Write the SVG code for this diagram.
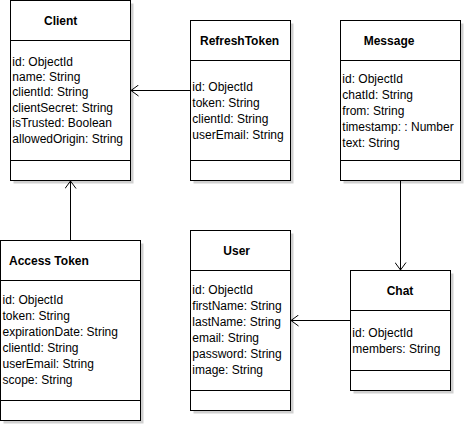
<svg xmlns="http://www.w3.org/2000/svg" width="465" height="425" viewBox="0 0 465 425">
<style>
.box{fill:#fff;stroke:#000;stroke-width:1}
.sh{fill:#d0d0d0}
.ln{stroke:#000;stroke-width:1;fill:none}
.t{font-family:"Liberation Sans",Arial,sans-serif;font-size:12px;font-weight:bold;fill:#000}
.a{font-family:"Liberation Sans",Arial,sans-serif;font-size:12px;fill:#000}
</style>
<defs>
<marker id="open" viewBox="0 0 10 12" refX="8" refY="6" markerWidth="10" markerHeight="12" markerUnits="userSpaceOnUse" orient="auto">
<path d="M0.5,0.5 L8,6 L0.5,11.5" fill="none" stroke="#000" stroke-width="1"/>
</marker>
</defs>
<rect width="465" height="425" fill="#fff"/>
<g id="client">
<rect class="sh" x="13.5" y="3.5" width="120" height="180"/>
<rect class="box" x="10.5" y="0.5" width="120" height="180"/>
<line class="ln" x1="10.5" y1="40.5" x2="130.5" y2="40.5"/>
<line class="ln" x1="10.5" y1="160.5" x2="130.5" y2="160.5"/>
<text class="t" x="44" y="25.3">Client</text>
<text class="a"><tspan x="12.3" y="65.5">id: ObjectId</tspan><tspan x="12.3" y="80.9">name: String</tspan><tspan x="12.3" y="96.3">clientId: String</tspan><tspan x="12.3" y="111.7">clientSecret: String</tspan><tspan x="12.3" y="127.1">isTrusted: Boolean</tspan><tspan x="12.3" y="142.5">allowedOrigin: String</tspan></text>
</g>
<g id="refreshtoken">
<rect class="sh" x="193.5" y="23.5" width="100" height="160"/>
<rect class="box" x="190.5" y="20.5" width="100" height="160"/>
<line class="ln" x1="190.5" y1="60.5" x2="290.5" y2="60.5"/>
<line class="ln" x1="190.5" y1="160.5" x2="290.5" y2="160.5"/>
<text class="t" x="200" y="45">RefreshToken</text>
<text class="a"><tspan x="192.3" y="91.3">id: ObjectId</tspan><tspan x="192.3" y="107.3">token: String</tspan><tspan x="192.3" y="123.3">clientId: String</tspan><tspan x="192.3" y="139.3">userEmail: String</tspan></text>
</g>
<g id="message">
<rect class="sh" x="343.5" y="23.5" width="120" height="160"/>
<rect class="box" x="340.5" y="20.5" width="120" height="160"/>
<line class="ln" x1="340.5" y1="60.5" x2="460.5" y2="60.5"/>
<line class="ln" x1="340.5" y1="160.5" x2="460.5" y2="160.5"/>
<text class="t" x="363.7" y="45">Message</text>
<text class="a"><tspan x="342.3" y="83.3">id: ObjectId</tspan><tspan x="342.3" y="99.1">chatId: String</tspan><tspan x="342.3" y="114.9">from: String</tspan><tspan x="342.3" y="130.7">timestamp: : Number</tspan><tspan x="342.3" y="146.5">text: String</tspan></text>
</g>
<g id="accesstoken">
<rect class="sh" x="3.5" y="243.5" width="140" height="180"/>
<rect class="box" x="0.5" y="240.5" width="140" height="180"/>
<line class="ln" x1="0.5" y1="280.5" x2="140.5" y2="280.5"/>
<line class="ln" x1="0.5" y1="400.5" x2="140.5" y2="400.5"/>
<text class="t" x="9" y="264.6">Access Token</text>
<text class="a"><tspan x="2.5" y="304.3">id: ObjectId</tspan><tspan x="2.5" y="320.3">token: String</tspan><tspan x="2.5" y="336.3">expirationDate: String</tspan><tspan x="2.5" y="352.3">clientId: String</tspan><tspan x="2.5" y="368.3">userEmail: String</tspan><tspan x="2.5" y="384.3">scope: String</tspan></text>
</g>
<g id="user">
<rect class="sh" x="193.5" y="233.5" width="100" height="180"/>
<rect class="box" x="190.5" y="230.5" width="100" height="180"/>
<line class="ln" x1="190.5" y1="270.5" x2="290.5" y2="270.5"/>
<line class="ln" x1="190.5" y1="390.5" x2="290.5" y2="390.5"/>
<text class="t" x="223.3" y="255">User</text>
<text class="a"><tspan x="192.3" y="294.3">id: ObjectId</tspan><tspan x="192.3" y="310.3">firstName: String</tspan><tspan x="192.3" y="326.3">lastName: String</tspan><tspan x="192.3" y="342.3">email: String</tspan><tspan x="192.3" y="358.3">password: String</tspan><tspan x="192.3" y="374.3">image: String</tspan></text>
</g>
<g id="chat">
<rect class="sh" x="353.5" y="273.5" width="100" height="120"/>
<rect class="box" x="350.5" y="270.5" width="100" height="120"/>
<line class="ln" x1="350.5" y1="310.5" x2="450.5" y2="310.5"/>
<line class="ln" x1="350.5" y1="370.5" x2="450.5" y2="370.5"/>
<text class="t" x="386.7" y="295">Chat</text>
<text class="a"><tspan x="352.3" y="337">id: ObjectId</tspan><tspan x="352.3" y="353">members: String</tspan></text>
</g>
<g id="connectors">
<line class="ln" x1="190.5" y1="90.5" x2="131" y2="90.5" marker-end="url(#open)"/>
<line class="ln" x1="70.5" y1="240.5" x2="70.5" y2="181" marker-end="url(#open)"/>
<line class="ln" x1="400.5" y1="180.5" x2="400.5" y2="270" marker-end="url(#open)"/>
<line class="ln" x1="350.5" y1="320.5" x2="291" y2="320.5" marker-end="url(#open)"/>
</g>
</svg>
